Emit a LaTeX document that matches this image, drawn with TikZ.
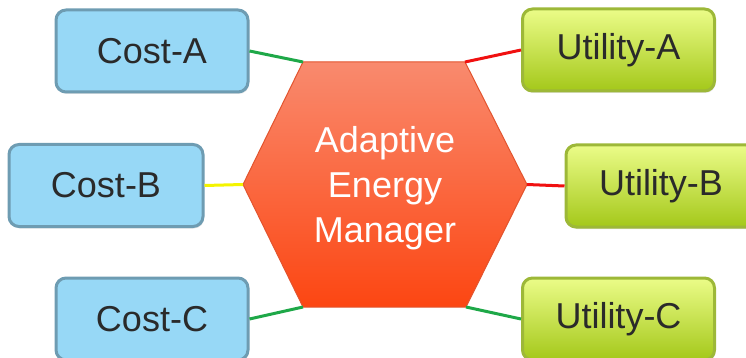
\documentclass[tikz,border=0pt]{standalone}
\usepackage{fontspec}
\setmainfont{Liberation Sans}
\usetikzlibrary{shadows}
\definecolor{costfill}{HTML}{97D8F6}
\definecolor{costline}{HTML}{6E9CB2}
\definecolor{utiltop}{HTML}{EBFC88}
\definecolor{utilbot}{HTML}{A4C81A}
\definecolor{utilline}{HTML}{9DB838}
\definecolor{hextop}{HTML}{F98A6E}
\definecolor{hexbot}{HTML}{FC4612}
\definecolor{hexline}{HTML}{E2542E}
\definecolor{linkgreen}{HTML}{1EA848}
\definecolor{linkred}{HTML}{F01010}
\definecolor{linkyellow}{HTML}{F4F400}
\definecolor{txt}{HTML}{2A2A2A}
\begin{document}
\begin{tikzpicture}[x=1pt, y=-1pt,
        box/.style={rectangle, rounded corners=10pt, line width=3pt,
            minimum width=192pt, minimum height=82pt, inner sep=0pt,
            text=txt, font=\fontsize{36}{40}\selectfont,
            drop shadow={opacity=0.2, shadow xshift=1pt, shadow yshift=-2pt}},
        costbox/.style={box, fill=costfill, draw=costline},
        utilbox/.style={box, top color=utiltop, bottom color=utilbot, draw=utilline},
        link/.style={line width=3pt}]
    \useasboundingbox (0,0) rectangle (746,358);
    % hexagon corners
    \coordinate (htl) at (303,62);
    \coordinate (htr) at (465,62);
    \coordinate (hr) at (527,184.5);
    \coordinate (hbr) at (466,307);
    \coordinate (hbl) at (303,307);
    \coordinate (hl) at (243,184.5);
    \draw[top color=hextop, bottom color=hexbot, draw=hexline, line width=1pt]
        (htl) -- (htr) -- (hr) -- (hbr) -- (hbl) -- (hl) -- cycle;
    \node[text=white, align=center, font=\fontsize{36}{45}\selectfont]
        (hex) at (385,188) {Adaptive\\Energy\\Manager};
    \node[costbox] (costa) at (152,51) {Cost-A};
    \node[costbox, minimum width=194pt] (costb) at (106,185.5) {Cost-B};
    \node[costbox] (costc) at (152,319) {Cost-C};
    \node[utilbox] (utila) at (618.5,50) {Utility-A};
    \node[utilbox, minimum width=190pt] (utilb) at (661,186) {Utility-B};
    \node[utilbox] (utilc) at (618.5,319) {Utility-C};
    \draw[link, linkgreen] (costa.east) -- (htl);
    \draw[link, linkyellow] (costb.east) -- (hl);
    \draw[link, linkgreen] (costc.east) -- (hbl);
    \draw[link, linkred] (utila.west) -- (htr);
    \draw[link, linkred] (utilb.west) -- (hr);
    \draw[link, linkgreen] (utilc.west) -- (hbr);
\end{tikzpicture}
\end{document}
